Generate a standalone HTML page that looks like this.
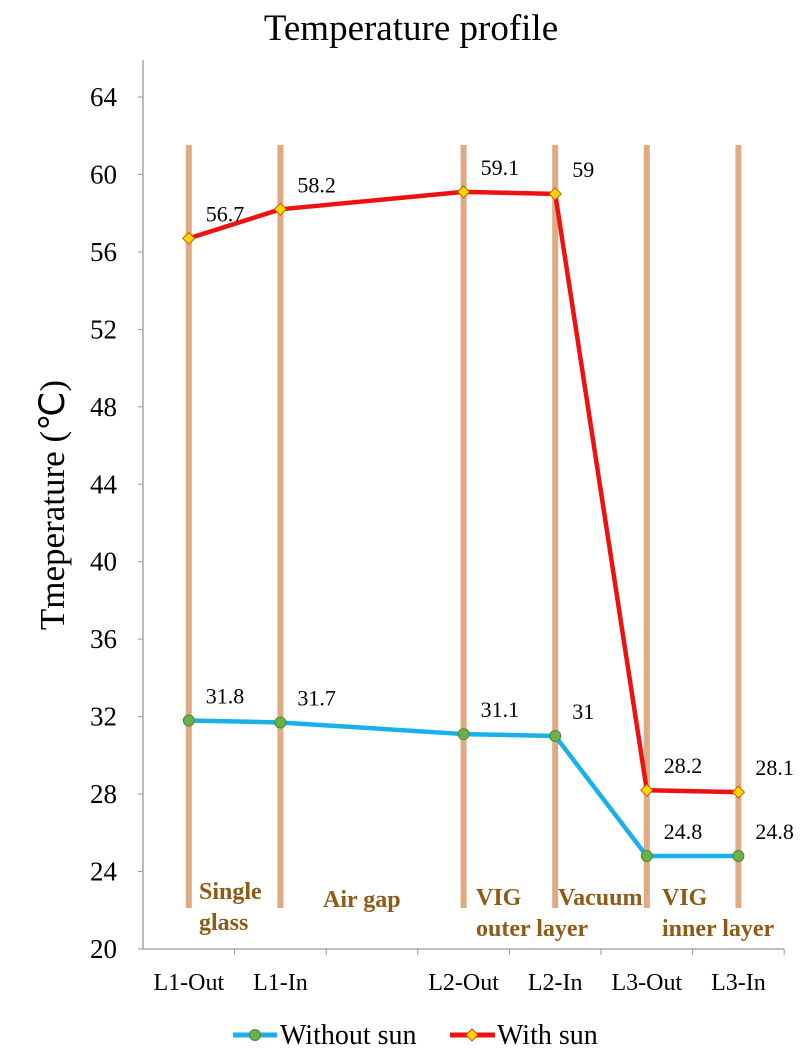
<!DOCTYPE html>
<html><head><meta charset="utf-8"><style>
html,body{margin:0;padding:0;background:#fff;}
svg{display:block;font-family:"Liberation Serif",serif;}
</style></head><body>
<svg id="chart" width="804" height="1061">
<text x="411" y="40" font-size="37" text-anchor="middle">Temperature profile</text>
<text transform="translate(64,505) rotate(-90)" font-size="35" text-anchor="middle">Tmeperature (℃)</text>
<g id="grid"></g><g id="axes"></g><g id="series"></g><g id="labels"></g>
<g font-weight="bold" font-size="24" fill="#8f5a16">
<text x="199" y="899"><tspan x="199">Single</tspan><tspan x="199" dy="31">glass</tspan></text>
<text x="323" y="907">Air gap</text>
<text x="476" y="905"><tspan x="476">VIG</tspan><tspan x="476" dy="31">outer layer</tspan></text>
<text x="558" y="905">Vacuum</text>
<text x="662" y="905"><tspan x="662">VIG</tspan><tspan x="662" dy="31">inner layer</tspan></text>
</g>
<g>
<g>
<line x1="233" y1="1035" x2="277" y2="1035" stroke="#1ab0e8" stroke-width="5"/>
<circle cx="255" cy="1035" r="5.5" fill="#6ab04c" stroke="#4d8a2e"/>
<text x="280" y="1044" font-size="28">Without sun</text></g>
<g>
<line x1="450" y1="1035" x2="495" y2="1035" stroke="#ee1111" stroke-width="5"/>
<path d="M472 1029 L478 1035 L472 1041 L466 1035Z" fill="#ffd800" stroke="#d35400"/>
<text x="497" y="1044" font-size="28">With sun</text></g>
</g>
</svg>
<script>
const categories=["L1-Out","L1-In","","L2-Out","L2-In","L3-Out","L3-In"];
const withoutSun=[31.8,31.7,null,31.1,31,24.8,24.8];
const withSun=[56.7,58.2,null,59.1,59,28.2,28.1];
const yTicks=[20,24,28,32,36,40,44,48,52,56,60,64];
const NS="http://www.w3.org/2000/svg";
const x0=143,slot=91.6,yBase=949,yTop=97,yMin=20,yMax=64;
const xs=i=>x0+slot*(i+0.5);
const ys=v=>yBase-(v-yMin)/(yMax-yMin)*(yBase-yTop);
function mk(tag,attrs,parent){const e=document.createElementNS(NS,tag);for(const k in attrs)e.setAttribute(k,attrs[k]);document.getElementById(parent).appendChild(e);return e;}
categories.forEach((c,i)=>{if(!c)return;
 const b=mk('rect',{x:xs(i)-3,y:145,width:6,height:763,fill:'#e0aa85'},'grid');
 
 });
const ya=mk('line',{x1:x0,y1:60,x2:x0,y2:yBase,stroke:'#999','stroke-width':1.3},'axes');

const xa=mk('line',{x1:x0,y1:yBase,x2:x0+slot*7,y2:yBase,stroke:'#999','stroke-width':1.3},'axes');

yTicks.forEach(t=>{mk('line',{x1:x0-5,y1:ys(t),x2:x0,y2:ys(t),stroke:'#999'},'axes');
 const tx=mk('text',{x:x0-26,y:ys(t)+9,'font-size':27,'text-anchor':'end'},'axes');tx.textContent=t;
 });
for(let i=1;i<=7;i++)mk('line',{x1:x0+slot*i,y1:yBase,x2:x0+slot*i,y2:yBase+6,stroke:'#999'},'axes');
categories.forEach((c,i)=>{if(!c)return;const t=mk('text',{x:xs(i),y:990,'font-size':24,'text-anchor':'middle'},'axes');t.textContent=c;
 });
function series(vals,color,marker,name){
 const pts=[];vals.forEach((v,i)=>{if(v!==null)pts.push([xs(i),ys(v),v]);});
 const p=mk('polyline',{points:pts.map(p=>p[0]+','+p[1]).join(' '),fill:'none',stroke:color,'stroke-width':4.5,'stroke-linejoin':'round'},'series');
 
 pts.forEach(([x,y,v])=>{let m;
  if(marker==='circle')m=mk('circle',{cx:x,cy:y,r:5.5,fill:'#6ab04c',stroke:'#4d8a2e'},'series');
  else m=mk('path',{d:`M${x} ${y-6}L${x+6} ${y}L${x} ${y+6}L${x-6} ${y}Z`,fill:'#ffd800',stroke:'#d35400'},'series');
  
  const t=mk('text',{x:x+17,y:y-17,'font-size':22},'labels');t.textContent=v;
  });
}
series(withoutSun,'#1ab0e8','circle','without-sun');
series(withSun,'#ee1111','diamond','with-sun');
</script>
</body></html>
